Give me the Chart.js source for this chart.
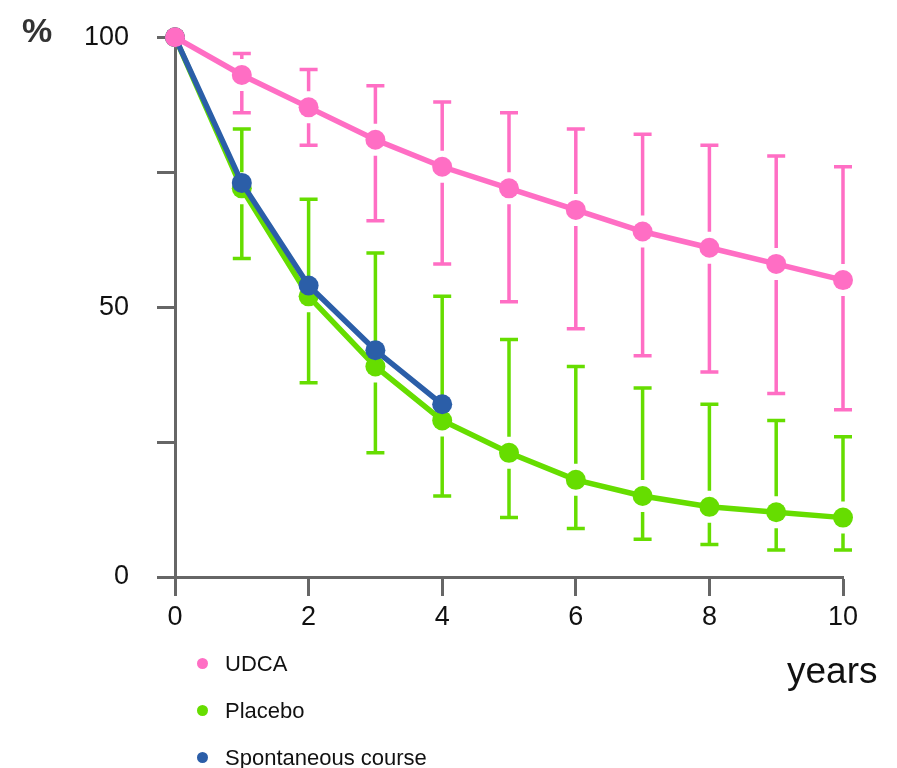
<!DOCTYPE html>
<html>
<head>
<meta charset="utf-8">
<script src="https://cdn.jsdelivr.net/npm/chart.js@4.4.0/dist/chart.umd.min.js"></script>
<style>
  body { margin: 0; background: #fff; overflow: hidden; }
  #wrap { position: relative; width: 897px; height: 768px; overflow: hidden; }
  #chart { position: absolute; left: 0; top: -7px; }
  .lbl { position: absolute; font-family: "Liberation Sans", Arial, sans-serif; color: #111; }
  .legend { position: absolute; left: 197px; font-family: "Liberation Sans", Arial, sans-serif; font-size: 22px; color: #111; }
  .legend div { height: 47px; display: flex; align-items: center; }
  .legend span.dot { display: inline-block; width: 11px; height: 11px; border-radius: 50%; margin-right: 17px; }
</style>
</head>
<body>
<div id="wrap">
  <canvas id="chart" width="897" height="775"></canvas>
  <div class="lbl" style="left:22px; top:11px; font-size:34px; font-weight:bold; color:#333;">%</div>
  <div class="lbl" style="left:787px; top:650px; font-size:37px;">years</div>
  <div class="legend" id="legend" style="top:640px;"></div>
</div>
<script>
const years = [0, 1, 2, 3, 4, 5, 6, 7, 8, 9, 10];
const udca = [100, 93, 87, 81, 76, 72, 68, 64, 61, 58, 55];
const udcaHigh = [null, 97, 94, 91, 88, 86, 83, 82, 80, 78, 76];
const udcaLow = [null, 86, 80, 66, 58, 51, 46, 41, 38, 34, 31];
const placebo = [100, 72, 52, 39, 29, 23, 18, 15, 13, 12, 11];
const placeboHigh = [null, 83, 70, 60, 52, 44, 39, 35, 32, 29, 26];
const placeboLow = [null, 59, 36, 23, 15, 11, 9, 7, 6, 5, 5];
const spontaneous = [100, 73, 54, 42, 32];
const yLabels = [0, 50, 100];

const pink = '#ff6ec4';
const green = '#66dd00';
const blue = '#2b5ea8';

function pts(vals) {
    return vals.map((v, i) => ({ x: years[i], y: v }));
}

// error bars, with a small gap around each marker
const errorBars = {
    id: 'errorBars',
    beforeDatasetsDraw(chart) {
        const ctx = chart.ctx;
        const xs = chart.scales.x, ys = chart.scales.y;
        chart.data.datasets.forEach(ds => {
            if (!ds.errHigh) return;
            ctx.save();
            ctx.strokeStyle = ds.borderColor;
            ctx.lineWidth = 3.5;
            ds.data.forEach((p, i) => {
                const hi = ds.errHigh[i], lo = ds.errLow[i];
                if (hi == null) return;
                const x = xs.getPixelForValue(p.x);
                const yc = ys.getPixelForValue(p.y);
                const yh = ys.getPixelForValue(hi);
                const yl = ys.getPixelForValue(lo);
                ctx.beginPath();
                if (yc - 16 > yh) { ctx.moveTo(x, yh); ctx.lineTo(x, yc - 16); }
                if (yc + 16 < yl) { ctx.moveTo(x, yc + 16); ctx.lineTo(x, yl); }
                ctx.moveTo(x - 9, yh); ctx.lineTo(x + 9, yh);
                ctx.moveTo(x - 9, yl); ctx.lineTo(x + 9, yl);
                ctx.stroke();
            });
            ctx.restore();
        });
    }
};

const datasets = [
    { label: 'UDCA', data: pts(udca), errHigh: udcaHigh, errLow: udcaLow,
      borderColor: pink, backgroundColor: pink, order: 0 },
    { label: 'Placebo', data: pts(placebo), errHigh: placeboHigh, errLow: placeboLow,
      borderColor: green, backgroundColor: green, order: 2 },
    { label: 'Spontaneous course', data: pts(spontaneous),
      borderColor: blue, backgroundColor: blue, order: 1 }
];
datasets.forEach(d => {
    d.borderWidth = 5.5;
    d.pointRadius = 10;
    d.pointHoverRadius = 10;
    d.pointBorderWidth = 0;
    d.clip = false;
});

const axisColor = '#666';
const tickFont = { family: '"Liberation Sans", Arial, sans-serif', size: 27 };

new Chart(document.getElementById('chart'), {
    type: 'line',
    data: { datasets: datasets },
    plugins: [errorBars],
    options: {
        responsive: false,
        animation: false,
        layout: { padding: { top: 14, right: 54, left: 0, bottom: 0 } },
        plugins: { legend: { display: false }, tooltip: { enabled: false } },
        scales: {
            x: {
                type: 'linear', min: 0, max: 10,
                ticks: { stepSize: 2, color: '#111', font: tickFont, padding: 5, maxRotation: 0 },
                grid: { drawOnChartArea: false, tickLength: 19, tickColor: axisColor, tickWidth: 3 },
                border: { color: axisColor, width: 3 },
                afterFit: s => { s.height = 191; }
            },
            y: {
                min: 0, max: 100,
                ticks: {
                    stepSize: 25, color: '#111', font: tickFont, padding: 28,
                    callback: v => yLabels.includes(v) ? v : ''
                },
                grid: { drawOnChartArea: false, tickLength: 18, tickColor: axisColor, tickWidth: 3 },
                border: { color: axisColor, width: 3 },
                afterFit: s => { s.width = 175; }
            }
        }
    }
});

const legend = document.getElementById('legend');
datasets.forEach(d => {
    const row = document.createElement('div');
    row.innerHTML = '<span class="dot" style="background:' + d.borderColor + '"></span>' + d.label;
    legend.appendChild(row);
});
</script>
</body>
</html>
